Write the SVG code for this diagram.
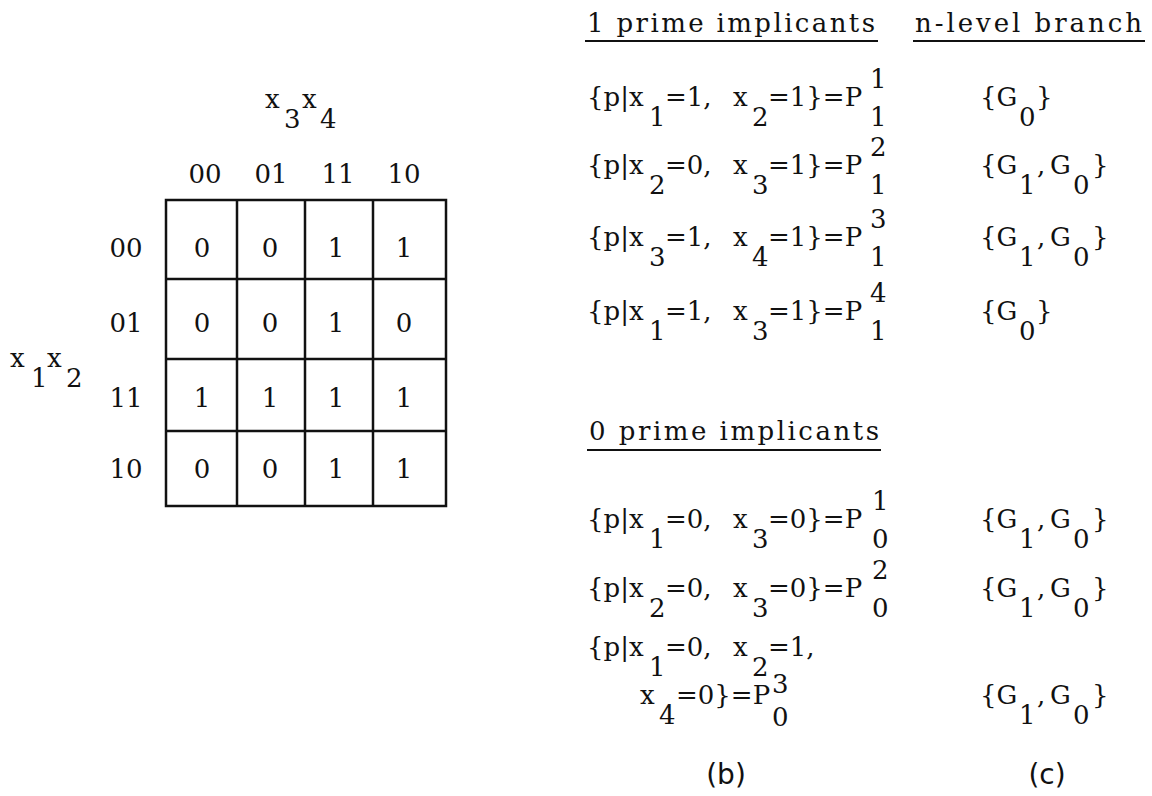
<svg xmlns="http://www.w3.org/2000/svg" width="1152" height="796" viewBox="0 0 1152 796">
<style>
 text { font-family: "DejaVu Serif", "Liberation Serif", serif; font-size: 26px; fill: #111; }
 .lbl { font-family: "DejaVu Sans", "Liberation Sans", sans-serif; font-size: 28px; }
 .m { text-anchor: middle; }
 .grid { stroke: #111; stroke-width: 2.5; fill: none; }
 .ul { stroke: #111; stroke-width: 2; }
</style>
<rect width="1152" height="796" fill="#fff"/>

<g id="kmap">
 <rect class="grid" x="166" y="200" width="280" height="306"/>
 <path class="grid" d="M237 200V506M305 200V506M373 200V506M166 279H446M166 359H446M166 431H446"/>
 <text id="var-x3x4"><tspan x="265" y="108">x</tspan><tspan x="284" y="128">3</tspan><tspan x="302" y="108">x</tspan><tspan x="320" y="128">4</tspan></text>
 <text id="var-x1x2"><tspan x="10" y="367">x</tspan><tspan x="31" y="387">1</tspan><tspan x="47" y="367">x</tspan><tspan x="66" y="387">2</tspan></text>
 <g id="col-labels" class="m">
  <text x="205" y="183">00</text><text x="271" y="183">01</text><text x="338" y="183">11</text><text x="404" y="183">10</text>
 </g>
 <g id="row-labels" class="m">
  <text x="126" y="257">00</text><text x="126" y="332">01</text><text x="126" y="407">11</text><text x="126" y="478">10</text>
 </g>
 <g id="cells" class="m">
  <text x="202" y="257">0</text><text x="270" y="257">0</text><text x="336" y="257">1</text><text x="404" y="257">1</text>
  <text x="202" y="332">0</text><text x="270" y="332">0</text><text x="336" y="332">1</text><text x="404" y="332">0</text>
  <text x="202" y="407">1</text><text x="270" y="407">1</text><text x="336" y="407">1</text><text x="404" y="407">1</text>
  <text x="202" y="478">0</text><text x="270" y="478">0</text><text x="336" y="478">1</text><text x="404" y="478">1</text>
 </g>
</g>

<g id="headers">
 <text x="587" y="32" textLength="288" lengthAdjust="spacing">1 prime implicants</text>
 <line class="ul" x1="585" y1="41" x2="878" y2="41"/>
 <text x="915" y="32" textLength="227" lengthAdjust="spacing">n-level branch</text>
 <line class="ul" x1="913" y1="41" x2="1145" y2="41"/>
 <text x="589" y="440" textLength="290" lengthAdjust="spacing">0 prime implicants</text>
 <line class="ul" x1="587" y1="450" x2="881" y2="450"/>
</g>

<g id="pi1-1">
 <text><tspan x="587" y="106">{p|x</tspan><tspan x="649" y="126">1</tspan><tspan x="665" y="106">=1,</tspan><tspan x="733" y="106">x</tspan><tspan x="752" y="126">2</tspan><tspan x="768" y="106">=1}=P</tspan><tspan x="870" y="88">1</tspan><tspan x="870" y="126">1</tspan></text>
 <text><tspan x="980" y="106">{G</tspan><tspan x="1019" y="126">0</tspan><tspan x="1036" y="106">}</tspan></text>
</g>
<g id="pi1-2">
 <text><tspan x="587" y="174">{p|x</tspan><tspan x="649" y="194">2</tspan><tspan x="665" y="174">=0,</tspan><tspan x="733" y="174">x</tspan><tspan x="752" y="194">3</tspan><tspan x="768" y="174">=1}=P</tspan><tspan x="870" y="156">2</tspan><tspan x="870" y="194">1</tspan></text>
 <text><tspan x="980" y="174">{G</tspan><tspan x="1019" y="194">1</tspan><tspan x="1037" y="174">,</tspan><tspan x="1050" y="174">G</tspan><tspan x="1073" y="194">0</tspan><tspan x="1092" y="174">}</tspan></text>
</g>
<g id="pi1-3">
 <text><tspan x="587" y="246">{p|x</tspan><tspan x="649" y="266">3</tspan><tspan x="665" y="246">=1,</tspan><tspan x="733" y="246">x</tspan><tspan x="752" y="266">4</tspan><tspan x="768" y="246">=1}=P</tspan><tspan x="870" y="228">3</tspan><tspan x="870" y="266">1</tspan></text>
 <text><tspan x="980" y="246">{G</tspan><tspan x="1019" y="266">1</tspan><tspan x="1037" y="246">,</tspan><tspan x="1050" y="246">G</tspan><tspan x="1073" y="266">0</tspan><tspan x="1092" y="246">}</tspan></text>
</g>
<g id="pi1-4">
 <text><tspan x="587" y="320">{p|x</tspan><tspan x="649" y="340">1</tspan><tspan x="665" y="320">=1,</tspan><tspan x="733" y="320">x</tspan><tspan x="752" y="340">3</tspan><tspan x="768" y="320">=1}=P</tspan><tspan x="870" y="302">4</tspan><tspan x="870" y="340">1</tspan></text>
 <text><tspan x="980" y="320">{G</tspan><tspan x="1019" y="340">0</tspan><tspan x="1036" y="320">}</tspan></text>
</g>

<g id="pi0-1">
 <text><tspan x="587" y="528">{p|x</tspan><tspan x="649" y="548">1</tspan><tspan x="665" y="528">=0,</tspan><tspan x="733" y="528">x</tspan><tspan x="752" y="548">3</tspan><tspan x="768" y="528">=0}=P</tspan><tspan x="872" y="510">1</tspan><tspan x="872" y="548">0</tspan></text>
 <text><tspan x="980" y="528">{G</tspan><tspan x="1019" y="548">1</tspan><tspan x="1037" y="528">,</tspan><tspan x="1050" y="528">G</tspan><tspan x="1073" y="548">0</tspan><tspan x="1092" y="528">}</tspan></text>
</g>
<g id="pi0-2">
 <text><tspan x="587" y="597">{p|x</tspan><tspan x="649" y="617">2</tspan><tspan x="665" y="597">=0,</tspan><tspan x="733" y="597">x</tspan><tspan x="752" y="617">3</tspan><tspan x="768" y="597">=0}=P</tspan><tspan x="872" y="579">2</tspan><tspan x="872" y="617">0</tspan></text>
 <text><tspan x="980" y="597">{G</tspan><tspan x="1019" y="617">1</tspan><tspan x="1037" y="597">,</tspan><tspan x="1050" y="597">G</tspan><tspan x="1073" y="617">0</tspan><tspan x="1092" y="597">}</tspan></text>
</g>
<g id="pi0-3">
 <text><tspan x="587" y="656">{p|x</tspan><tspan x="649" y="676">1</tspan><tspan x="665" y="656">=0,</tspan><tspan x="733" y="656">x</tspan><tspan x="752" y="676">2</tspan><tspan x="768" y="656">=1,</tspan></text>
 <text><tspan x="640" y="704">x</tspan><tspan x="659" y="724">4</tspan><tspan x="676" y="704">=0}=P</tspan><tspan x="772" y="693">3</tspan><tspan x="772" y="726">0</tspan></text>
 <text><tspan x="980" y="704">{G</tspan><tspan x="1019" y="724">1</tspan><tspan x="1037" y="704">,</tspan><tspan x="1050" y="704">G</tspan><tspan x="1073" y="724">0</tspan><tspan x="1092" y="704">}</tspan></text>
</g>

<g id="captions">
 <text class="lbl m" x="726" y="784">(b)</text>
 <text class="lbl m" x="1047" y="784">(c)</text>
</g>
</svg>
